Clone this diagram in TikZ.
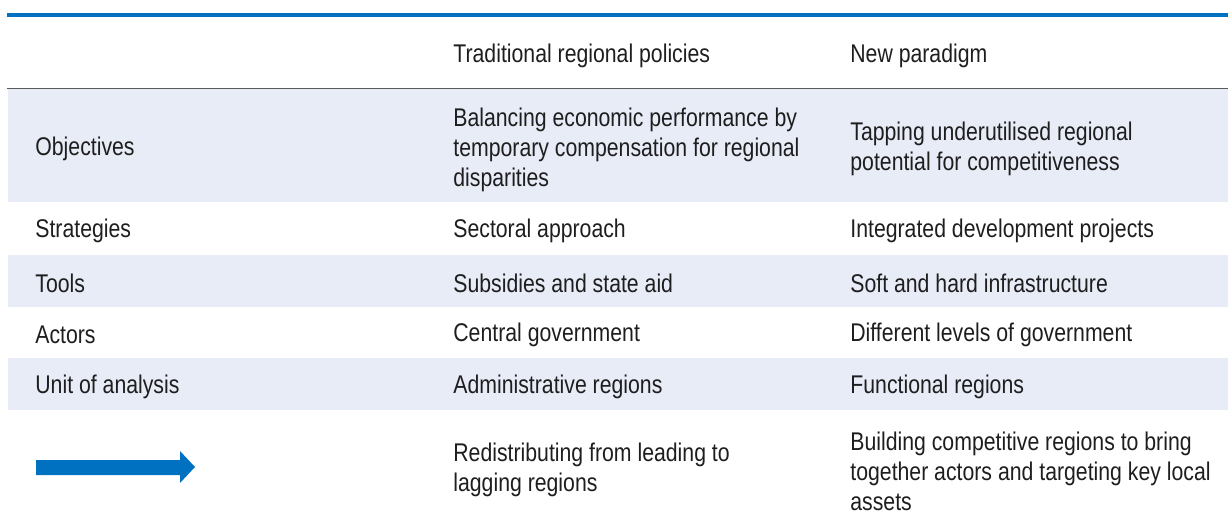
\documentclass[tikz,border=0pt]{standalone}
\usepackage{fontspec}
\setmainfont{Liberation Sans}[FakeStretch=0.83]
\usepackage{xcolor}
\usepackage{tikz}
\definecolor{oecdblue}{RGB}{0,112,192}
\definecolor{rowshade}{RGB}{232,236,247}
\definecolor{rulegray}{RGB}{90,90,90}
\definecolor{celltext}{RGB}{30,30,30}
\tikzset{
    cell/.style={anchor=west, inner sep=0pt, align=left, text=celltext,
        font=\fontsize{12.8}{15}\selectfont}
}

\begin{document}
\begin{tikzpicture}[x=0.5pt,y=-0.5pt]
		\useasboundingbox (0,0) rectangle (1228,521);

		% shaded rows
		\fill[rowshade] (8,89) rectangle (1228,202);
		\fill[rowshade] (8,255) rectangle (1228,307);
		\fill[rowshade] (8,358) rectangle (1228,410);

		% rules
		\draw[oecdblue, line width=2pt] (7,15) -- (1228,15);
		\draw[rulegray, line width=0.9pt] (7,88.5) -- (1228,88.5);

		% header
		\node[cell] (headold) at (453,56) {Traditional regional policies};
		\node[cell] (headnew) at (850,56) {New paradigm};

		% objectives
		\node[cell] (objlabel) at (35,149) {Objectives};
		\node[cell] (objold) at (453,150) {Balancing economic performance by\\temporary compensation for regional\\disparities};
		\node[cell] (objnew) at (850,149) {Tapping underutilised regional\\potential for competitiveness};

		% strategies
		\node[cell] (strlabel) at (35,231) {Strategies};
		\node[cell] (strold) at (453,231) {Sectoral approach};
		\node[cell] (strnew) at (850,231) {Integrated development projects};

		% tools
		\node[cell] (toollabel) at (35,283) {Tools};
		\node[cell] (toolold) at (453,283) {Subsidies and state aid};
		\node[cell] (toolnew) at (850,283) {Soft and hard infrastructure};

		% actors
		\node[cell] (actlabel) at (35,335) {Actors};
		\node[cell] (actold) at (453,335) {Central government};
		\node[cell] (actnew) at (850,335) {Different levels of government};

		% unit of analysis
		\node[cell] (unitlabel) at (35,387) {Unit of analysis};
		\node[cell] (unitold) at (453,387) {Administrative regions};
		\node[cell] (unitnew) at (850,387) {Functional regions};

		% arrow row
		\coordinate (A) at (36,460);
		\coordinate (B) at (180,460);
		\coordinate (C) at (180,451);
		\coordinate (D) at (195,467);
		\coordinate (E) at (180,483);
		\coordinate (F) at (180,475);
		\coordinate (G) at (36,475);
		\fill[oecdblue] (A) -- (B) -- (C) -- (D) -- (E) -- (F) -- (G) -- cycle;

		\node[cell] (shiftold) at (453,470) {Redistributing from leading to\\lagging regions};
		\node[cell] (shiftnew) at (850,471) {Building competitive regions to bring\\together actors and targeting key local\\assets};
\end{tikzpicture}
\end{document}
